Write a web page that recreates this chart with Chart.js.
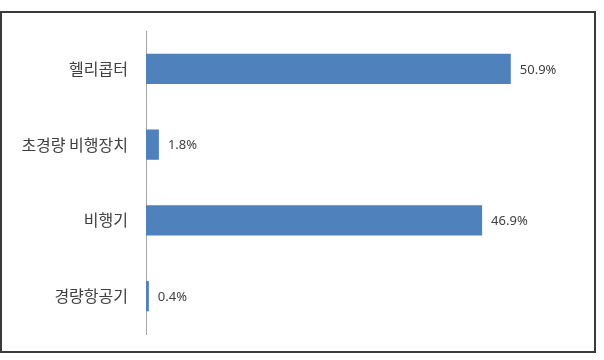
<!DOCTYPE html>
<html>
<head>
<meta charset="utf-8">
<script src="https://cdn.jsdelivr.net/npm/chart.js@4/dist/chart.umd.min.js"></script>
<style>
  body { margin: 0; background: #fff; }
  .frame {
    position: absolute;
    left: 0;
    top: 11px;
    width: 592px;
    height: 338px;
    border: 2px solid #3a3a3a;
    background: #fff;
  }
</style>
</head>
<body>
<div class="frame">
  <canvas id="barChart" width="592" height="338"></canvas>
</div>
<script>
const categories = ["헬리콥터", "초경량 비행장치", "비행기", "경량항공기"];
const shares = [50.9, 1.8, 46.9, 0.4];

const valueLabels = {
  id: "valueLabels",
  afterDatasetsDraw(chart) {
    const ctx = chart.ctx;
    const meta = chart.getDatasetMeta(0);
    ctx.save();
    ctx.font = "13px 'Noto Sans', sans-serif";
    ctx.fillStyle = "#404040";
    ctx.textAlign = "left";
    ctx.textBaseline = "middle";
    meta.data.forEach((bar, i) => {
      ctx.fillText(shares[i].toFixed(1) + "%", bar.x + 9, bar.y + 1);
    });
    ctx.restore();
  },
};

new Chart("barChart", {
  type: "bar",
  data: {
    labels: categories,
    datasets: [
      {
        data: shares,
        backgroundColor: "#4f81bd",
        borderWidth: 0,
        categoryPercentage: 0.4,
        barPercentage: 1,
      },
    ],
  },
  options: {
    indexAxis: "y",
    responsive: false,
    animation: false,
    layout: {
      padding: { top: 18, right: 18, bottom: 17, left: 0 },
    },
    plugins: {
      legend: { display: false },
      tooltip: { enabled: false },
    },
    scales: {
      x: {
        display: false,
        min: 0,
        max: 60,
      },
      y: {
        afterFit: scale => {
          scale.width = 144;
          scale.paddingTop = 0;
          scale.paddingBottom = 0;
        },
        grid: { display: false, drawTicks: false },
        border: { display: true, color: "#a6a6a6", width: 1 },
        ticks: {
          padding: 18,
          color: "#404040",
          font: { family: "'Noto Sans CJK KR', sans-serif", size: 16 },
        },
      },
    },
  },
  plugins: [valueLabels],
});
</script>
</body>
</html>
